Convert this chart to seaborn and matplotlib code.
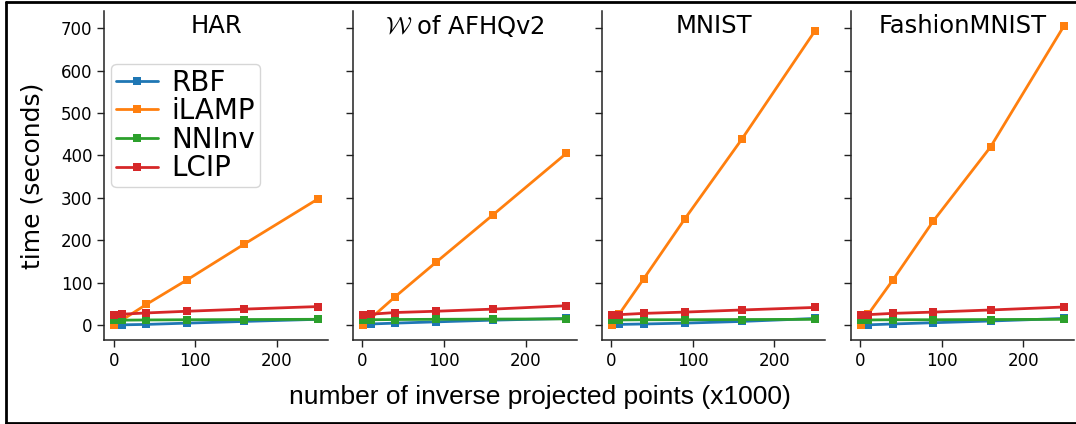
import matplotlib
matplotlib.use("Agg")
import matplotlib.pyplot as plt
import seaborn as sns
import pandas as pd
from matplotlib.lines import Line2D

# ---- data ----
datasets = ["HAR", r"$\mathcal{W}$ of AFHQv2", "MNIST", "FashionMNIST"]
methods = ["RBF", "iLAMP", "NNInv", "LCIP"]
n_points = [1, 10, 40, 90, 160, 250]  # x1000

har_rbf = [0.5, 1, 2, 5, 9, 14]
har_ilamp = [1, 12, 49, 107, 191, 297]
har_nninv = [12, 12, 12.5, 13, 13.5, 14]
har_lcip = [25, 26, 29, 33, 38, 44]

afhq_rbf = [0.5, 3, 5, 8, 12, 16]
afhq_ilamp = [1, 16, 67, 148, 260, 405]
afhq_nninv = [13, 13, 13.5, 14, 14.5, 15]
afhq_lcip = [25, 26, 30, 33, 38, 46]

mnist_rbf = [0.5, 2, 3, 5, 9, 16]
mnist_ilamp = [1, 27, 110, 250, 438, 694]
mnist_nninv = [12, 12.5, 13, 13, 13.5, 14]
mnist_lcip = [25, 25, 28, 31, 36, 42]

fmnist_rbf = [0.5, 1, 3, 6, 10, 16]
fmnist_ilamp = [1, 26, 106, 246, 420, 705]
fmnist_nninv = [12, 12.5, 13, 13, 13.5, 14]
fmnist_lcip = [25, 25, 28, 31, 36, 43]

series = {
    datasets[0]: [har_rbf, har_ilamp, har_nninv, har_lcip],
    datasets[1]: [afhq_rbf, afhq_ilamp, afhq_nninv, afhq_lcip],
    datasets[2]: [mnist_rbf, mnist_ilamp, mnist_nninv, mnist_lcip],
    datasets[3]: [fmnist_rbf, fmnist_ilamp, fmnist_nninv, fmnist_lcip],
}

rows = []
for ds, vals in series.items():
    for m, v in zip(methods, vals):
        for x, y in zip(n_points, v):
            rows.append({"dataset": ds, "method": m, "x": x, "time": y})
df = pd.DataFrame(rows)

sns.set_theme(style="ticks")
plt.rcParams["font.family"] = ["DejaVu Sans"]
plt.rcParams.update({"text.color": "black", "axes.labelcolor": "black",
                     "xtick.color": "black", "ytick.color": "black",
                     "axes.edgecolor": "black"})

W, H = 1076, 424
fig = plt.figure(figsize=(W / 100, H / 100), dpi=100)
palette = dict(zip(methods, sns.color_palette("tab10", 4)))

left0 = 104.3 / W
step = 248.8 / W
aw = 223.4 / W
bottom = 1 - 340 / H
ah = (340 - 11) / H

axes = []
for i, ds in enumerate(datasets):
    ax = fig.add_axes([left0 + i * step, bottom, aw, ah],
                      sharey=axes[0] if axes else None)
    axes.append(ax)
    sub = df[df["dataset"] == ds]
    sns.lineplot(data=sub, x="x", y="time", hue="method", hue_order=methods,
                 palette=palette, marker="s", markersize=5.5, markeredgewidth=0,
                 linewidth=2.0, ax=ax, legend=(i == 0))
    ax.set_xlabel("")
    ax.set_ylabel("")
    ax.set_xticks([0, 100, 200])
    ax.set_yticks(range(0, 701, 100))
    ax.tick_params(labelsize=12, length=5, width=1, color="#222222")
    for s in ["left", "bottom"]:
        ax.spines[s].set_linewidth(1.1)
        ax.spines[s].set_color("#222222")
    sns.despine(ax=ax)
    if i > 0:
        ax.tick_params(labelleft=False)
    kw = {}
    if i == 1:
        kw["math_fontfamily"] = "cm"
    ax.text(0.5, 0.955, ds, transform=ax.transAxes, ha="center", va="center",
            fontsize=17.5, **kw)

axes[0].set_ylabel("time (seconds)", fontsize=18, labelpad=12)
axes[0].margins(x=0.05, y=0.05)

leg = axes[0].legend(loc="upper left", bbox_to_anchor=(0.03, 0.84),
                     borderaxespad=0, fontsize=20, handlelength=1.5,
                     handletextpad=0.5, labelspacing=0.02, borderpad=0.18,
                     frameon=True)
leg.get_frame().set_edgecolor("#cccccc")
leg.get_frame().set_linewidth(1.0)
for h in leg.legend_handles:
    h.set_linewidth(2.0)

fig.text(540 / W, 1 - 397 / H, "number of inverse projected points (x1000)",
         ha="center", va="center", fontsize=19, family=["Liberation Sans"])

# figure border
lw = 2.0
fig.add_artist(Line2D([6 / W, 6 / W], [1 - 423 / H, 1 - 1.5 / H], color="black",
                      linewidth=lw, transform=fig.transFigure))
fig.add_artist(Line2D([6 / W, 1.0], [1 - 1.5 / H, 1 - 1.5 / H], color="black",
                      linewidth=lw, transform=fig.transFigure))
fig.add_artist(Line2D([6 / W, 1.0], [1 - 423 / H, 1 - 423 / H], color="black",
                      linewidth=lw, transform=fig.transFigure))

fig.savefig("out.png", dpi=100, facecolor="white")
